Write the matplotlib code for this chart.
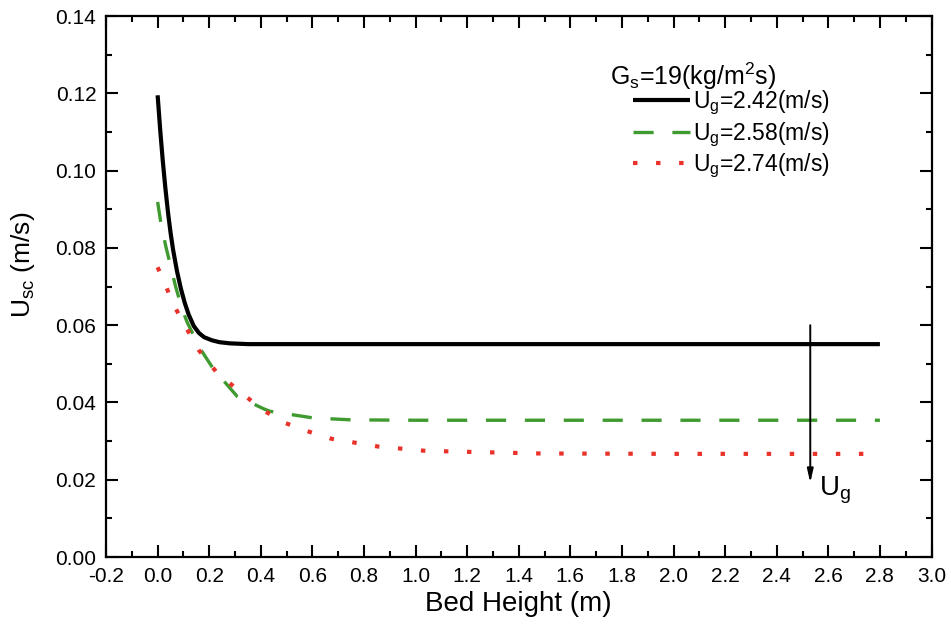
import matplotlib
matplotlib.use("Agg")
import matplotlib.pyplot as plt
from matplotlib.lines import Line2D
from matplotlib.ticker import MultipleLocator

plt.rcParams['font.family'] = ['Liberation Sans', 'DejaVu Sans']
plt.rcParams['mathtext.fontset'] = 'custom'
plt.rcParams['mathtext.rm'] = 'Liberation Sans'
plt.rcParams['lines.scale_dashes'] = False

# ---- data ----
x_242 = [0.0, 0.01, 0.02, 0.03, 0.04, 0.05, 0.06, 0.075, 0.09, 0.105, 0.12, 0.14, 0.16, 0.18, 0.21, 0.24, 0.28, 0.35, 0.5, 1.0, 1.5, 2.0, 2.5, 2.8]
y_242 = [0.1195, 0.1105, 0.1025, 0.0955, 0.0893, 0.0840, 0.0795, 0.0740, 0.0695, 0.0658, 0.0628, 0.0598, 0.0580, 0.0569, 0.0561, 0.0556, 0.0553, 0.0551, 0.0551, 0.0551, 0.0551, 0.0551, 0.0551, 0.0551]

x_258 = [0.0, 0.012, 0.031, 0.050, 0.069, 0.095, 0.115, 0.166, 0.217, 0.308, 0.41, 0.436, 0.603, 0.75, 1.0, 1.5, 2.0, 2.5, 2.8]
y_258 = [0.0919, 0.0867, 0.0806, 0.0754, 0.0702, 0.0641, 0.0607, 0.0538, 0.0486, 0.0416, 0.0384, 0.0377, 0.0360, 0.0355, 0.0354, 0.0354, 0.0354, 0.0354, 0.0354]

x_274 = [0.0, 0.037, 0.057, 0.105, 0.16, 0.23, 0.404, 0.494, 0.584, 0.674, 0.854, 1.035, 1.215, 1.485, 2.0, 2.5, 2.8]
y_274 = [0.0750, 0.0693, 0.0659, 0.0600, 0.0535, 0.0477, 0.0382, 0.0347, 0.0325, 0.0306, 0.0286, 0.0275, 0.0272, 0.0268, 0.0267, 0.0267, 0.0267]

labels = [r'U$_\mathregular{g}$=2.42(m/s)', r'U$_\mathregular{g}$=2.58(m/s)', r'U$_\mathregular{g}$=2.74(m/s)']
legend_title = r'G$_\mathregular{s}$=19(kg/m$^\mathregular{2}$s)'

xticks = [-0.2, 0.0, 0.2, 0.4, 0.6, 0.8, 1.0, 1.2, 1.4, 1.6, 1.8, 2.0, 2.2, 2.4, 2.6, 2.8, 3.0]
yticks = [0.00, 0.02, 0.04, 0.06, 0.08, 0.10, 0.12, 0.14]

arrow_x = 2.53
arrow_y_start = 0.0600
arrow_y_end = 0.0192

fig = plt.figure(figsize=(9.51, 6.43), dpi=100)
ax = fig.add_axes([0.1115, 0.1337, 0.9795 - 0.1115, 0.975 - 0.1337])

black_style = dict(color='black', lw=3.0, solid_capstyle='butt', solid_joinstyle='round')
green_style = dict(color='#3f9a2f', lw=2.4, linestyle=(0, (14.5, 13.5)))
red_style = dict(color='#e8322a', lw=3.0, linestyle=(0, (3.2, 13.4)))

ax.plot(x_242, y_242, **black_style)
ax.plot(x_258, y_258, **green_style)
ax.plot(x_274, y_274, **red_style)

ax.set_xlim(-0.2, 3.0)
ax.set_ylim(0.0, 0.14)
ax.set_xticks(xticks)
ax.set_xticklabels(['%.1f' % v for v in xticks])
ax.set_yticks(yticks)
ax.set_yticklabels(['%.2f' % v for v in yticks])
ax.xaxis.set_minor_locator(MultipleLocator(0.1))
ax.yaxis.set_minor_locator(MultipleLocator(0.01))
ax.tick_params(which='both', direction='in', top=True, right=True, width=1.5, labelsize=15)
ax.tick_params(which='major', length=8.5, pad=7)
ax.tick_params(which='minor', length=4.5)
for s in ax.spines.values():
    s.set_linewidth(1.6)

ax.set_xlabel('Bed Height (m)', fontsize=20, labelpad=4)
ax.set_ylabel(r'U$_\mathregular{sc}$ (m/s)', fontsize=19)
ax.yaxis.set_label_coords(-0.084, 0.54)

# legend
handles = [Line2D([], [], **black_style), Line2D([], [], **green_style), Line2D([], [], **red_style)]
ax.text(0.611, 0.889, legend_title, transform=ax.transAxes, fontsize=18, ha='left', va='center')
ax.legend(handles, labels, loc='upper left', bbox_to_anchor=(0.6385, 0.8657), frameon=False,
          fontsize=16.5, handlelength=2.5, handletextpad=0.1, labelspacing=0.14, borderpad=0.0,
          borderaxespad=0.0)

# arrow
ax.annotate('', xy=(arrow_x, arrow_y_end), xytext=(arrow_x, arrow_y_start),
            arrowprops=dict(arrowstyle='-|>,head_length=0.8,head_width=0.18', color='black', lw=1.4,
                            shrinkA=0, shrinkB=0))
ax.text(arrow_x + 0.035, 0.0172, r'U$_\mathregular{g}$', fontsize=20, ha='left', va='center')

fig.savefig('out.png', dpi=100)
